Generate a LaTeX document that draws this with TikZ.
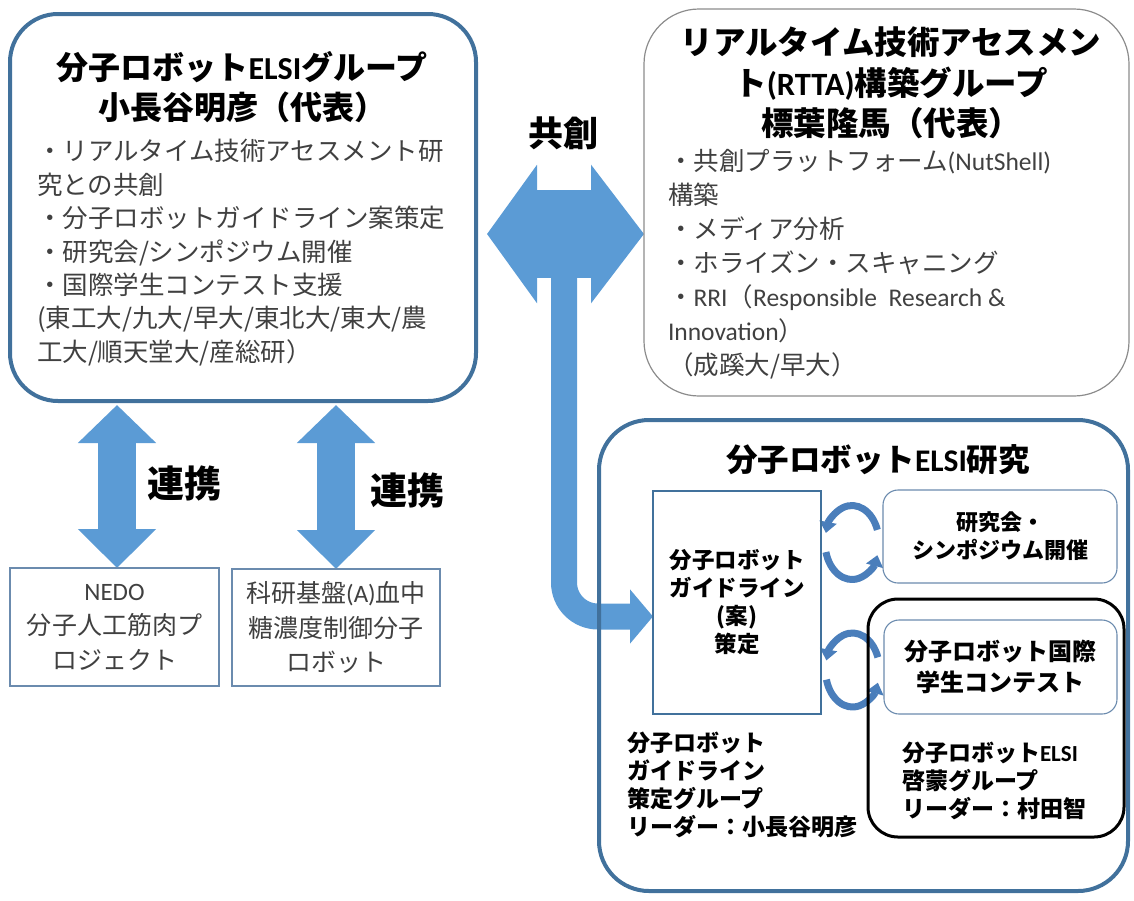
\documentclass[tikz,border=0pt]{standalone}
\usepackage{fontspec}
\setmainfont{Noto Sans CJK JP}
\newfontfamily\latfont{Carlito}
\newcommand\latn[1]{{\latfont #1}}
\usetikzlibrary{arrows.meta,calc}
\pgfdeclarelayer{bg}
\pgfsetlayers{bg,main}
\definecolor{arrowblue}{HTML}{5B9BD5}
\definecolor{darkedge}{HTML}{41719C}
\definecolor{thinedge}{HTML}{6B8BAE}
\definecolor{grayedge}{HTML}{8C8C8C}
\definecolor{circblue}{HTML}{4A7EBB}
\definecolor{bodygray}{HTML}{404040}
\begin{document}
\begin{tikzpicture}[x=1pt,y=-1pt,outer sep=0pt,inner sep=0pt,
  thickbox/.style={draw=darkedge,line width=4pt,anchor=north west},
  thinbox/.style={draw=thinedge,line width=1.1pt,anchor=north west},
  titletext/.style={font=\bfseries\fontsize{32}{40}\selectfont,align=center},
  bodytext/.style={font=\fontsize{25.5}{33.4}\selectfont,text=bodygray,align=left,anchor=north west},
  innertext/.style={font=\bfseries\fontsize{22.5}{28}\selectfont,align=center},
  grouptext/.style={font=\bfseries\fontsize{23}{28}\selectfont,align=left,anchor=north west},
  boxtext/.style={font=\fontsize{25}{34.5}\selectfont,text=bodygray,align=center},
  biglabel/.style={font=\bfseries\fontsize{37}{40}\selectfont},
  blockarrow/.style={draw=arrowblue,line width=#1},
  circarrow/.style={draw=circblue,line width=7pt,-{Triangle[width=17pt,length=11pt]}}
]
\useasboundingbox (0,0) rectangle (1134,900);

% boxes
\node[thickbox,rounded corners=48pt,minimum width=466pt,minimum height=387pt] (lt) at (10,14) {};
\node[draw=grayedge,line width=1.2pt,anchor=north west,rounded corners=55pt,minimum width=485pt,minimum height=387pt] (rt) at (644,9) {};
\node[thickbox,rounded corners=50pt,minimum width=529pt,minimum height=471pt] (big) at (599,420) {};
\node[draw=darkedge,line width=2.5pt,anchor=north west,minimum width=168pt,minimum height=223pt,innertext] (gl) at (653,491) {分子ロボット\\ガイドライン\\(案)\\策定};
\node[thinbox,rounded corners=15pt,minimum width=234pt,minimum height=93pt,innertext,font=\bfseries\fontsize{22}{28}\selectfont] (kk) at (883,490) {研究会・\\シンポジウム開催};
\node[draw=black,line width=3pt,anchor=north west,rounded corners=30pt,minimum width=256pt,minimum height=238pt] (blk) at (868,599) {};
\node[thinbox,rounded corners=15pt,minimum width=233pt,minimum height=94pt,font=\bfseries\fontsize{24}{31}\selectfont,align=center] (kz) at (884,620) {分子ロボット国際\\学生コンテスト};
\node[thinbox,minimum width=209pt,minimum height=118pt,boxtext] (nedo) at (10,568) {\latn{NEDO}\\分子人工筋肉プ\\ロジェクト};
\node[thinbox,minimum width=208pt,minimum height=117pt,boxtext] (kaken) at (232,569) {科研基盤\latn{(A)}血中\\糖濃度制御分子\\ロボット};

% texts
\node[titletext] (lttitle) at (242,87) {分子ロボット\latn{ELSI}グループ\\小長谷明彦（代表）};
\node[bodytext] (ltbody) at (37,139.5) {・リアルタイム技術アセスメント研\\究との共創\\・分子ロボットガイドライン案策定\\・研究会/シンポジウム開催\\・国際学生コンテスト支援\\(東工大/九大/早大/東北大/東大/農\\工大/順天堂大/産総研）};
\node[titletext,font=\bfseries\fontsize{32.5}{40.5}\selectfont] (rttitle) at (891,83) {リアルタイム技術アセスメン\\ト\latn{(RTTA)}構築グループ\\標葉隆馬（代表）};
\node[bodytext,font=\fontsize{25.5}{34}\selectfont] (rtbody) at (668,149.5) {・共創プラットフォーム\latn{(NutShell)}\\構築\\・メディア分析\\・ホライズン・スキャニング\\・\latn{RRI}（\latn{Responsible\ \ Research \&}\\\latn{Innovation}）\\（成蹊大/早大）};
\node[titletext,font=\bfseries\fontsize{31.5}{36}\selectfont] (bigtitle) at (878,460) {分子ロボット\latn{ELSI}研究};
\node[grouptext] (glgroup) at (627,731.5) {分子ロボット\\ガイドライン\\策定グループ\\リーダー：小長谷明彦};
\node[grouptext] (elsigroup) at (902,741.5) {分子ロボット\latn{ELSI}\\啓蒙グループ\\リーダー：村田智};
\node[biglabel] (renkei1) at (184,483) {連携};
\node[biglabel] (renkei2) at (407,490) {連携};
\node[biglabel,font=\bfseries\fontsize{35}{40}\selectfont] (kyoso) at (563,133) {共創};

% connectors
\coordinate (kyoc) at (564,234);
\coordinate (bendin) at ($(gl.west)+(0,14)$);
\coordinate (c1) at ($(gl.east |- kk.west)!0.5!(kk.west)+(0,6)$);
\coordinate (c2) at ($(gl.east |- kz.west)!0.5!(kz.west)+(0,3)$);
\begin{pgfonlayer}{bg}
\draw[blockarrow=26pt,rounded corners=34pt,-{Triangle[width=53pt,length=23pt]}] (kyoc) -- (kyoc |- bendin) -- (bendin);
\draw[blockarrow=88pt,{Triangle[width=136pt,length=50pt]}-{Triangle[width=136pt,length=53pt]},shorten <=11pt] (lt.east |- kyoc) -- (rt.west |- kyoc);
\draw[blockarrow=38pt,{Triangle[width=76pt,length=38pt]}-{Triangle[width=76pt,length=39pt]},shorten <=4pt] ($(lt.south -| nedo.north)+(2.5,0)$) -- ($(nedo.north)+(2.5,0)$);
\draw[blockarrow=38pt,{Triangle[width=76pt,length=38pt]}-{Triangle[width=76pt,length=39pt]},shorten <=4pt] (lt.south -| kaken.north) -- (kaken.north);
\draw[circarrow] ($(c1)+(-20:27 and 37)$) arc[start angle=-20,end angle=-165,x radius=27,y radius=37];
\draw[circarrow] ($(c1)+(-195:27 and 37)$) arc[start angle=-195,end angle=-340,x radius=27,y radius=37];
\draw[circarrow] ($(c2)+(-20:27 and 37)$) arc[start angle=-20,end angle=-165,x radius=27,y radius=37];
\draw[circarrow] ($(c2)+(-195:27 and 37)$) arc[start angle=-195,end angle=-340,x radius=27,y radius=37];
\end{pgfonlayer}
\end{tikzpicture}
\end{document}
